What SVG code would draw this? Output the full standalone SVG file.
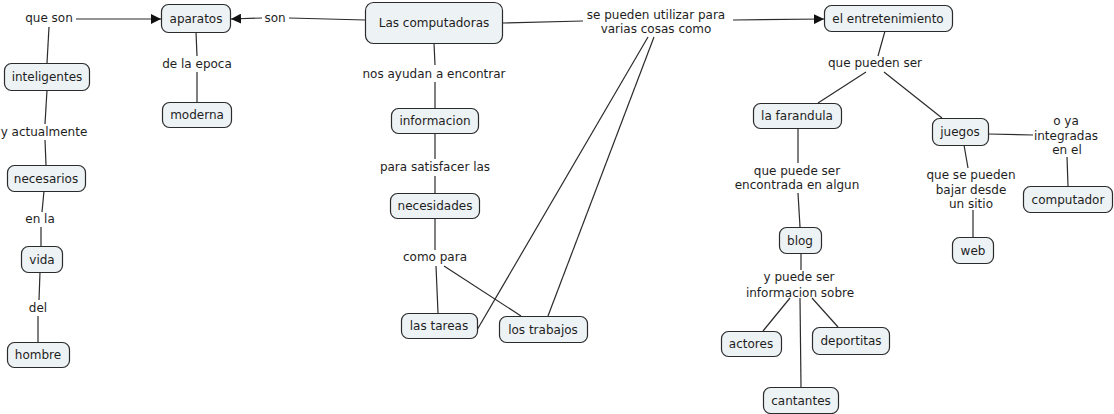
<svg xmlns="http://www.w3.org/2000/svg" width="1114" height="414" viewBox="0 0 1114 414">
<defs>
<style>
.n rect{fill:#edf2f5;stroke:#2b2b2b;stroke-width:1.2}
text{font-family:"DejaVu Sans",Verdana,sans-serif;font-size:12px;fill:#1e1e1e;text-anchor:middle}
.c line{stroke:#2b2b2b;stroke-width:1.2}
</style>
<marker id="ah" markerUnits="userSpaceOnUse" markerWidth="10" markerHeight="10" refX="10" refY="5" orient="auto">
<path d="M0,0 L10,5 L0,10 z" fill="#111"/>
</marker>
</defs>
<rect width="1114" height="414" fill="#fff"/>
<g class="c" id="connectors">
<line x1="76" y1="19" x2="161" y2="19" marker-end="url(#ah)"/>
<line x1="49" y1="27" x2="47" y2="63"/>
<line x1="365" y1="20" x2="289" y2="18"/>
<line x1="262" y1="18" x2="231" y2="19" marker-end="url(#ah)"/>
<line x1="196" y1="32" x2="197" y2="56"/>
<line x1="197" y1="72" x2="197" y2="102"/>
<line x1="47" y1="90" x2="45" y2="124"/>
<line x1="45" y1="140" x2="46" y2="165"/>
<line x1="44" y1="191" x2="42" y2="212"/>
<line x1="41" y1="227" x2="41" y2="246"/>
<line x1="40" y1="272" x2="39" y2="300"/>
<line x1="38" y1="316" x2="38" y2="342"/>
<line x1="434" y1="43" x2="435" y2="65"/>
<line x1="435" y1="82" x2="435" y2="108"/>
<line x1="435" y1="133" x2="435" y2="159"/>
<line x1="435" y1="176" x2="435" y2="193"/>
<line x1="435" y1="218" x2="435" y2="250"/>
<line x1="436" y1="266" x2="438" y2="313"/>
<line x1="444" y1="266" x2="521" y2="316"/>
<line x1="502" y1="23" x2="583" y2="21"/>
<line x1="733" y1="20" x2="824" y2="19" marker-end="url(#ah)"/>
<line x1="648" y1="37" x2="477" y2="330"/>
<line x1="654" y1="37" x2="548" y2="316"/>
<line x1="885" y1="31" x2="878" y2="56"/>
<line x1="866" y1="72" x2="818" y2="103"/>
<line x1="884" y1="72" x2="942" y2="118"/>
<line x1="798" y1="128" x2="798" y2="163"/>
<line x1="798" y1="193" x2="800" y2="227"/>
<line x1="801" y1="253" x2="801" y2="270"/>
<line x1="790" y1="298" x2="763" y2="331"/>
<line x1="812" y1="298" x2="838" y2="327"/>
<line x1="800" y1="298" x2="801" y2="387"/>
<line x1="988" y1="134" x2="1033" y2="135"/>
<line x1="1067" y1="157" x2="1068" y2="186"/>
<line x1="964" y1="145" x2="968" y2="168"/>
<line x1="973" y1="210" x2="973" y2="237"/>
</g>
<g id="labels">
<text x="49" y="22">que son</text>
<text x="275" y="22">son</text>
<text x="197" y="68">de la epoca</text>
<text x="44" y="136">y actualmente</text>
<text x="40" y="223">en la</text>
<text x="38" y="312">del</text>
<text x="434" y="78">nos ayudan a encontrar</text>
<text x="435" y="171">para satisfacer las</text>
<text x="435" y="261">como para</text>
<text x="656" y="19">se pueden utilizar para</text>
<text x="656" y="33">varias cosas como</text>
<text x="875" y="67">que pueden ser</text>
<text x="797" y="175">que puede ser</text>
<text x="797" y="189">encontrada en algun</text>
<text x="799" y="281">y puede ser</text>
<text x="800" y="297">informacion sobre</text>
<text x="971" y="179">que se pueden</text>
<text x="971" y="194">bajar desde</text>
<text x="971" y="208">un sitio</text>
<text x="1066" y="125">o ya</text>
<text x="1066" y="140">integradas</text>
<text x="1067" y="154">en el</text>
</g>
<g class="n" id="n-computadoras"><rect x="365.5" y="2.5" width="137" height="41" rx="8"/><text x="434" y="27">Las computadoras</text></g>
<g class="n" id="n-aparatos"><rect x="161.5" y="4.5" width="69" height="28" rx="7"/><text x="196" y="23">aparatos</text></g>
<g class="n" id="n-inteligentes"><rect x="4.5" y="63.5" width="85" height="27" rx="7"/><text x="47" y="81">inteligentes</text></g>
<g class="n" id="n-moderna"><rect x="162.5" y="102.5" width="69" height="25" rx="7"/><text x="197" y="119">moderna</text></g>
<g class="n" id="n-necesarios"><rect x="7.5" y="165.5" width="78" height="26" rx="7"/><text x="46" y="183">necesarios</text></g>
<g class="n" id="n-vida"><rect x="21.5" y="246.5" width="41" height="26" rx="7"/><text x="42" y="264">vida</text></g>
<g class="n" id="n-hombre"><rect x="7.5" y="342.5" width="62" height="25" rx="7"/><text x="38" y="359">hombre</text></g>
<g class="n" id="n-informacion"><rect x="391.5" y="108.5" width="87" height="25" rx="7"/><text x="435" y="125">informacion</text></g>
<g class="n" id="n-necesidades"><rect x="390.5" y="193.5" width="89" height="25" rx="7"/><text x="435" y="210">necesidades</text></g>
<g class="n" id="n-tareas"><rect x="401.5" y="313.5" width="76" height="25" rx="7"/><text x="439" y="330">las tareas</text></g>
<g class="n" id="n-trabajos"><rect x="499.5" y="316.5" width="88" height="26" rx="7"/><text x="543" y="334">los trabajos</text></g>
<g class="n" id="n-entretenimiento"><rect x="824.5" y="5.5" width="128" height="26" rx="7"/><text x="888" y="23">el entretenimiento</text></g>
<g class="n" id="n-farandula"><rect x="753.5" y="103.5" width="88" height="25" rx="7"/><text x="797" y="120">la farandula</text></g>
<g class="n" id="n-juegos"><rect x="932.5" y="118.5" width="56" height="27" rx="7"/><text x="960" y="136">juegos</text></g>
<g class="n" id="n-computador"><rect x="1023.5" y="186.5" width="89" height="26" rx="7"/><text x="1068" y="204">computador</text></g>
<g class="n" id="n-web"><rect x="952.5" y="237.5" width="41" height="26" rx="7"/><text x="973" y="255">web</text></g>
<g class="n" id="n-blog"><rect x="779.5" y="227.5" width="42" height="26" rx="7"/><text x="800" y="245">blog</text></g>
<g class="n" id="n-actores"><rect x="721.5" y="331.5" width="60" height="25" rx="7"/><text x="751" y="348">actores</text></g>
<g class="n" id="n-deportitas"><rect x="812.5" y="327.5" width="77" height="27" rx="7"/><text x="851" y="345">deportitas</text></g>
<g class="n" id="n-cantantes"><rect x="763.5" y="387.5" width="75" height="26" rx="7"/><text x="801" y="405">cantantes</text></g>
</svg>
